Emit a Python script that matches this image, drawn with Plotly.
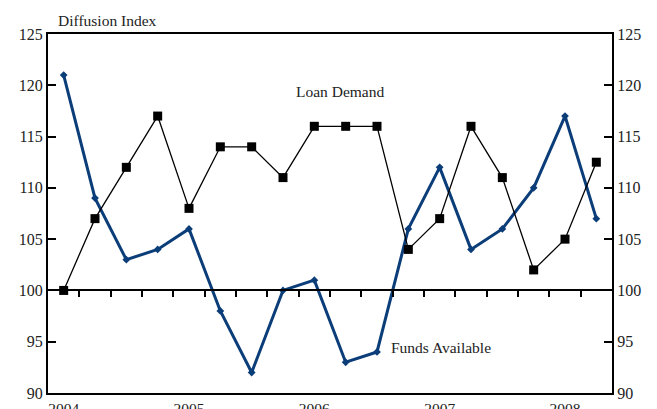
import plotly.graph_objects as go

quarters = list(range(18))  # 2004Q1 .. 2008Q2
year_ticks = [0, 4, 8, 12, 16]
year_labels = ["2004", "2005", "2006", "2007", "2008"]

loan_demand = [100, 107, 112, 117, 108, 114, 114, 111, 116, 116, 116, 104,
               107, 116, 111, 102, 105, 112.5]
funds_available = [121, 109, 103, 104, 106, 98, 92, 100, 101, 93, 94, 106,
                   112, 104, 106, 110, 117, 107]

y_ticks = [90, 95, 100, 105, 110, 115, 120, 125]
quarter_bounds = [q + 0.5 for q in quarters[:-1]]

BLUE = "#0b3d79"
FONT = "Liberation Serif"

fig = go.Figure()
fig.add_trace(go.Scatter(
    x=quarters, y=funds_available, mode="lines+markers",
    line=dict(color=BLUE, width=3),
    marker=dict(symbol="diamond", size=6, color=BLUE),
    showlegend=False))
fig.add_trace(go.Scatter(
    x=quarters, y=loan_demand, mode="lines+markers",
    line=dict(color="black", width=1.3),
    marker=dict(symbol="square", size=9, color="black"),
    showlegend=False))
# invisible helper trace so the right axis and the quarter-tick axis render
fig.add_trace(go.Scatter(x=[quarters[0]], y=[y_ticks[0]], xaxis="x2", yaxis="y2",
                         mode="markers", marker=dict(opacity=0),
                         showlegend=False, hoverinfo="skip"))

# page body adds an 8px offset, so the figure is sized to fit the 657x409 window
fig.update_layout(
    width=649, height=401,
    margin=dict(l=40, r=45, t=26, b=16),
    paper_bgcolor="white", plot_bgcolor="white",
    font=dict(family=FONT, color="#222", size=15),
    xaxis=dict(range=[-0.5, 17.5], tickvals=year_ticks, ticktext=year_labels,
               ticks="", showgrid=False, zeroline=False,
               showline=True, linecolor="black", linewidth=2, mirror=True,
               tickfont=dict(size=15.5), automargin=False),
    xaxis2=dict(range=[-0.5, 17.5], overlaying="x", anchor="free",
                position=(100 - 90) / (125 - 90), tickvals=quarter_bounds,
                ticks="outside", ticklen=6, tickwidth=1.5, tickcolor="black",
                showticklabels=False, showgrid=False, zeroline=False,
                showline=True, linecolor="black", linewidth=1.5),
    yaxis=dict(range=[90, 125], tickvals=y_ticks, ticks="inside", ticklen=8,
               tickwidth=1.5, tickcolor="black", showgrid=False, zeroline=False,
               showline=True, linecolor="black", linewidth=2,
               tickfont=dict(size=16), automargin=False),
    yaxis2=dict(range=[90, 125], tickvals=y_ticks, ticks="inside", ticklen=8,
                tickwidth=1.5, tickcolor="black", overlaying="y", side="right",
                showgrid=False, zeroline=False, showline=True, linecolor="black",
                linewidth=2, tickfont=dict(size=16), automargin=False),
    annotations=[
        dict(text="Diffusion Index", xref="paper", yref="paper", x=0.015, y=1.0,
             xanchor="left", yanchor="bottom", showarrow=False, yshift=3,
             font=dict(size=15.5)),
        dict(text="Loan Demand", xref="x", yref="y", x=8.82, y=119.4,
             showarrow=False, font=dict(size=15.5)),
        dict(text="Funds Available", xref="x", yref="y", x=10.38, y=94.4,
             xanchor="left", showarrow=False, font=dict(size=15.5)),
    ],
)

fig.write_html("out.html")
